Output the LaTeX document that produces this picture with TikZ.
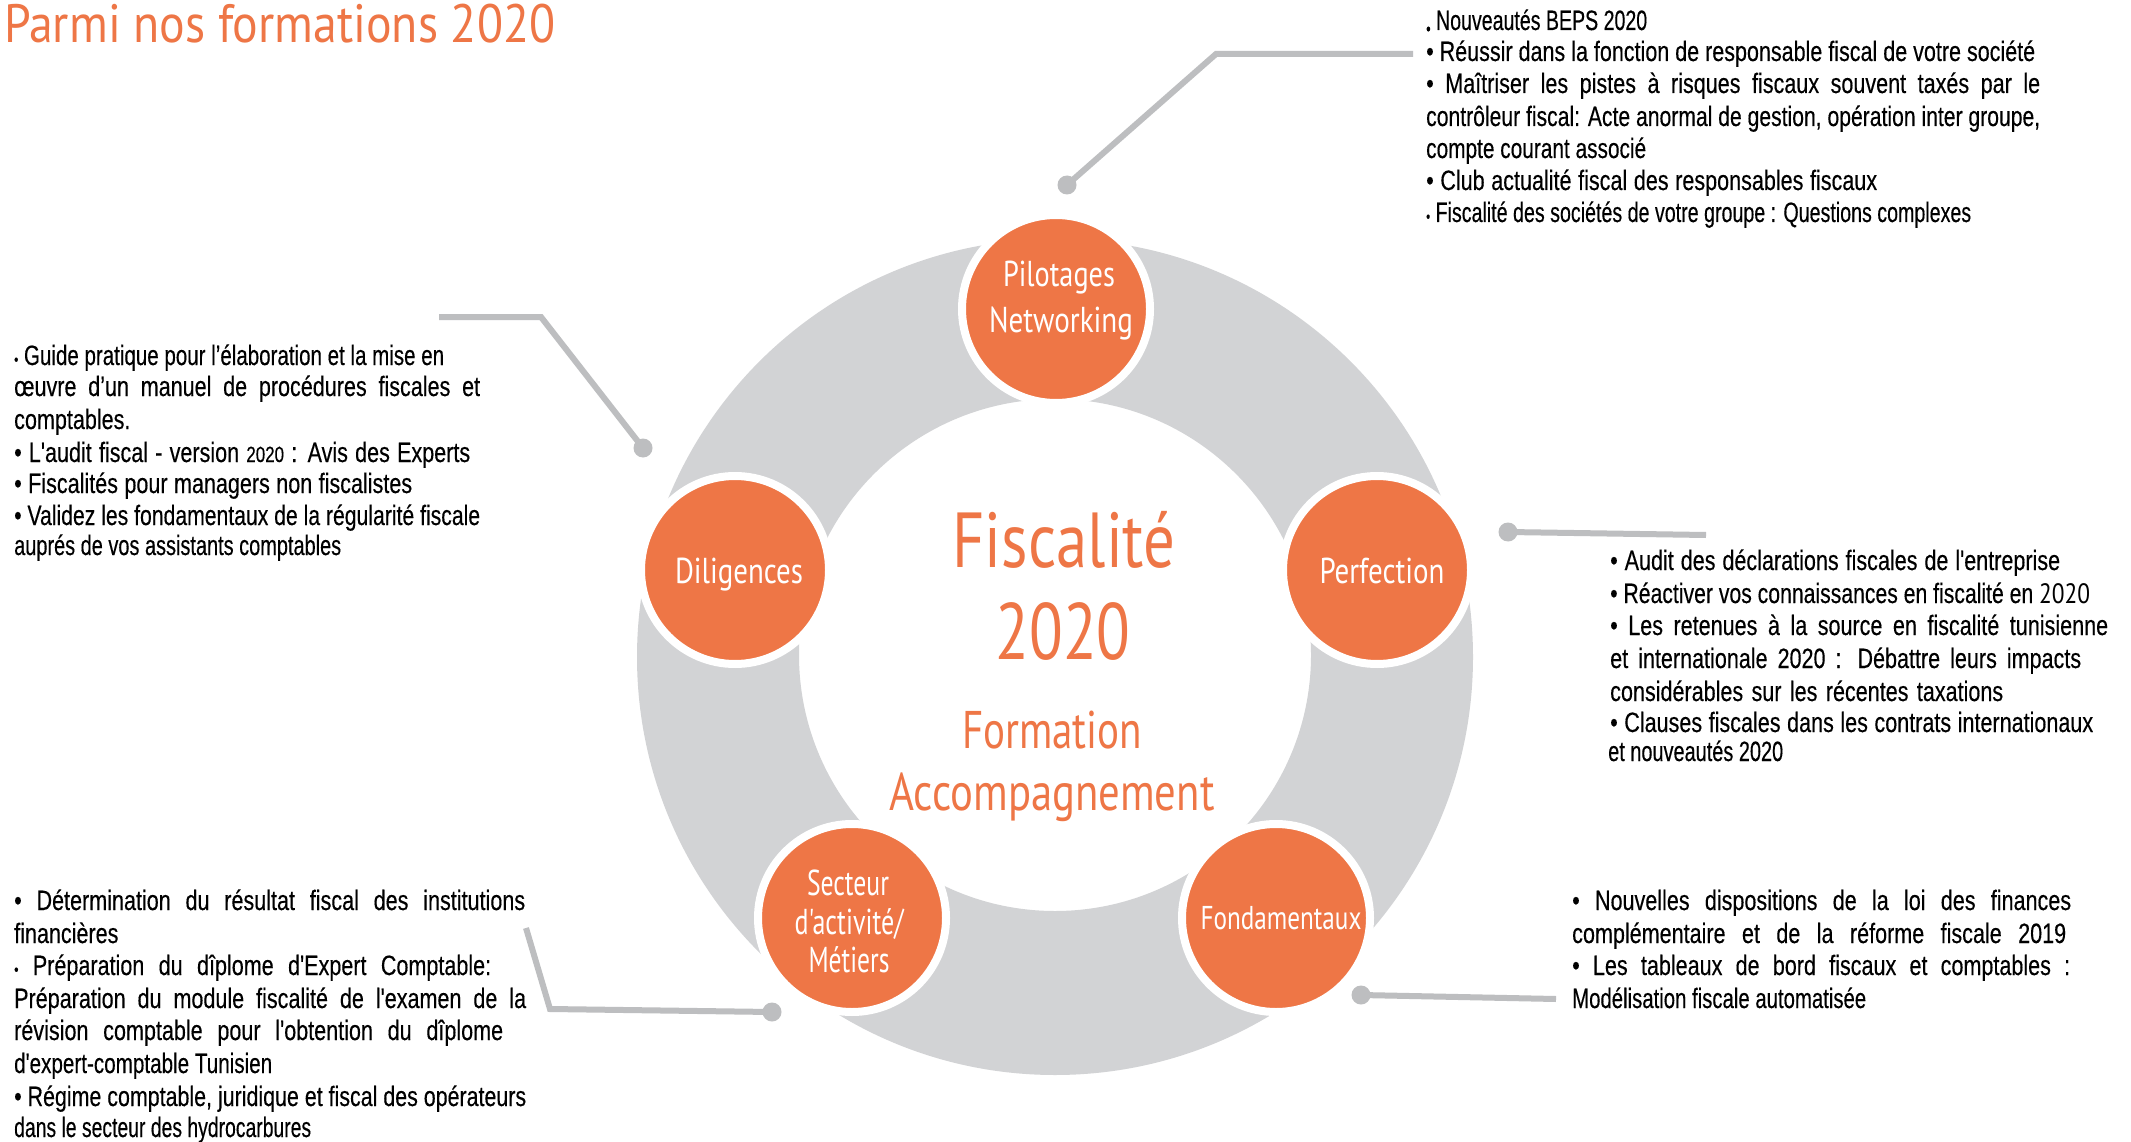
\documentclass[tikz,border=0pt]{standalone}
\usepackage{fontspec}
\usepackage{graphicx}
\setmainfont{Liberation Sans}
\newfontfamily\bodyf{Liberation Sans}[FakeStretch=0.77,FakeBold=0.3]
\newfontfamily\orf{PT Sans}[FakeStretch=0.85]
\definecolor{orng}{HTML}{EE7646}
\definecolor{ringg}{HTML}{D2D3D5}
\definecolor{lineg}{HTML}{BDBEC0}
\newlength\flw
\newcommand\fitl[2]{\settowidth\flw{#2}\ifdim\flw>#1pt\relax\resizebox{#1pt}{\height}{#2}\else\makebox[#1pt][s]{#2}\fi}
\newcommand\fitr[2]{\resizebox{#1pt}{\height}{#2}}
\newcommand\sbul{{\fontsize{16}{16}\selectfont •}}
\newcommand\lbul{\raisebox{-5pt}{\fontsize{18}{18}\selectfont •}}
\newcommand\smy{\fontsize{22}{22}\selectfont}
\tikzset{
  oc/.style={circle, fill=orng, draw=white, line width=8pt, minimum size=188pt, inner sep=0pt},
  ctext/.style={anchor=base, inner sep=0pt, text=white, font=\orf\fontsize{36}{36}\selectfont},
  btext/.style={anchor=base, inner sep=0pt, text=orng},
  tl/.style={anchor=base west, inner sep=0pt, text=black, font=\bodyf\fontsize{28}{32}\selectfont},
  conn/.style={draw=lineg, line width=6pt},
  dotn/.style={circle, fill=lineg, minimum size=19pt, inner sep=0pt}
}
\begin{document}
\begin{tikzpicture}[x=1pt,y=-1pt]
\useasboundingbox[fill=white] (0,0) rectangle (2131,1142);
% title
\node[btext, anchor=base west, font=\orf\fontsize{54}{54}\selectfont] (title) at (4,43) {\fitr{551}{Parmi nos formations 2020}};
% ring
\fill[ringg, even odd rule] (1055,657) circle[radius=418pt] (1055,655) circle[radius=256pt];
% circles
\node[oc] (pil) at (1056,309) {};
\node[oc] (dil) at (735,570) {};
\node[oc] (per) at (1377,570) {};
\node[oc] (sec) at (852,918) {};
\node[oc] (fon) at (1276,918) {};
% circle labels
\node[ctext] (pilA) at (1059,287) {\fitr{112}{Pilotages}};
\node[ctext] (pilB) at (1061,332) {\fitr{144}{Networking}};
\node[ctext] (dilA) at (739,583) {\fitr{128}{Diligences}};
\node[ctext] (perA) at (1382,583) {\fitr{125}{Perfection}};
\node[ctext] (secA) at (848,895) {\fitr{82}{Secteur}};
\node[ctext] (secB) at (849,934) {\fitr{109}{d'activité/}};
\node[ctext] (secC) at (849,972) {\fitr{81}{Métiers}};
\node[ctext, font=\orf\fontsize{33}{33}\selectfont] (fonA) at (1281,929) {\fitr{161}{Fondamentaux}};
% centre
\node[btext, font=\orf\fontsize{78}{78}\selectfont] (fis) at (1064,567) {\fitr{223}{Fiscalité}};
\node[btext, font=\orf\fontsize{80}{80}\selectfont] (yr) at (1063,659) {\fitr{135}{2020}};
\node[btext, font=\orf\fontsize{53}{53}\selectfont] (form) at (1052,748) {\fitr{180}{Formation}};
\node[btext, font=\orf\fontsize{53}{53}\selectfont] (acc) at (1052,810) {\fitr{325}{Accompagnement}};
% connectors
\node[dotn] (d1) at (1067,185) {};
\coordinate (k1a) at (1216,54);
\coordinate (k1b) at (1413,54);
\draw[conn] (d1.center) -- (k1a) -- (k1b);
\node[dotn] (d2) at (643,448) {};
\coordinate (k2a) at (541,317);
\coordinate (k2b) at (439,317);
\draw[conn] (d2.center) -- (k2a) -- (k2b);
\node[dotn] (d3) at (1508,532) {};
\coordinate (k3a) at (1706,535);
\draw[conn] (d3.center) -- (k3a);
\node[dotn] (d4) at (1361,995) {};
\coordinate (k4a) at (1556,999);
\draw[conn] (d4.center) -- (k4a);
\node[dotn] (d5) at (772,1012) {};
\coordinate (k5a) at (550,1009);
\coordinate (k5b) at (526,928);
\draw[conn] (d5.center) -- (k5a) -- (k5b);
% top-right block
\node[tl] (t1) at (1426,30) {\fitl{221}{\lbul\ Nouveautés BEPS 2020}};
\node[tl] (t2) at (1426,61) {\fitl{609}{• Réussir dans la fonction de responsable fiscal de votre société}};
\node[tl] (t3) at (1426,93) {\fitl{614}{• Maîtriser les pistes à risques fiscaux souvent taxés par le}};
\node[tl] (t4) at (1426,126) {\fitl{614}{contrôleur fiscal: Acte anormal de gestion, opération inter groupe,}};
\node[tl] (t5) at (1426,158) {\fitl{220}{compte courant associé}};
\node[tl] (t6) at (1426,190) {\fitl{451}{• Club actualité fiscal des responsables fiscaux}};
\node[tl] (t7) at (1426,222) {\fitl{545}{\sbul\ Fiscalité des sociétés de votre groupe : Questions complexes}};
% left-upper block
\node[tl] (l1) at (14,365) {\fitl{430}{\sbul\ Guide pratique pour l’élaboration et la mise en}};
\node[tl] (l2) at (14,396) {\fitl{466}{œuvre d’un manuel de procédures fiscales et}};
\node[tl] (l3) at (14,429) {comptables.};
\node[tl] (l4) at (14,462) {\fitl{456}{• L'audit fiscal - version {\smy 2020} : Avis des Experts}};
\node[tl] (l5) at (14,493) {\fitl{398}{• Fiscalités pour managers non fiscalistes}};
\node[tl] (l6) at (14,525) {\fitl{466}{• Validez les fondamentaux de la régularité fiscale}};
\node[tl] (l7) at (14,555) {\fitl{327}{auprés de vos assistants comptables}};
% right block
\node[tl] (r1) at (1610,570) {\fitl{450}{• Audit des déclarations fiscales de l'entreprise}};
\node[tl] (r2) at (1610,603) {\fitl{480}{• Réactiver vos connaissances en fiscalité en {\orf 2020}}};
\node[tl] (r3) at (1610,635) {\fitl{498}{• Les retenues à la source en fiscalité tunisienne}};
\node[tl] (r4) at (1610,668) {\fitl{471}{et internationale 2020 : Débattre leurs impacts}};
\node[tl] (r5) at (1610,701) {\fitl{393}{considérables sur les récentes taxations}};
\node[tl] (r6) at (1610,732) {\fitl{483}{• Clauses fiscales dans les contrats internationaux}};
\node[tl] (r7) at (1608,761) {\fitl{175}{et nouveautés 2020}};
% fondamentaux block
\node[tl] (f1) at (1572,910) {\fitl{499}{• Nouvelles dispositions de la loi des finances}};
\node[tl] (f2) at (1572,943) {\fitl{494}{complémentaire et de la réforme fiscale 2019}};
\node[tl] (f3) at (1572,975) {\fitl{498}{• Les tableaux de bord fiscaux et comptables :}};
\node[tl] (f4) at (1572,1008) {\fitl{294}{Modélisation fiscale automatisée}};
% secteur block
\node[tl] (s1) at (14,910) {\fitl{511}{• Détermination du résultat fiscal des institutions}};
\node[tl] (s2) at (14,943) {financières};
\node[tl] (s3) at (14,975) {\fitl{477}{\sbul\ Préparation du dîplome d'Expert Comptable:}};
\node[tl] (s4) at (14,1008) {\fitl{512}{Préparation du module fiscalité de l'examen de la}};
\node[tl] (s5) at (14,1040) {\fitl{489}{révision comptable pour l'obtention du dîplome}};
\node[tl] (s6) at (14,1073) {\fitl{258}{d'expert-comptable Tunisien}};
\node[tl] (s7) at (14,1106) {\fitl{512}{• Régime comptable, juridique et fiscal des opérateurs}};
\node[tl] (s8) at (14,1137) {\fitl{297}{dans le secteur des hydrocarbures}};
\end{tikzpicture}
\end{document}
